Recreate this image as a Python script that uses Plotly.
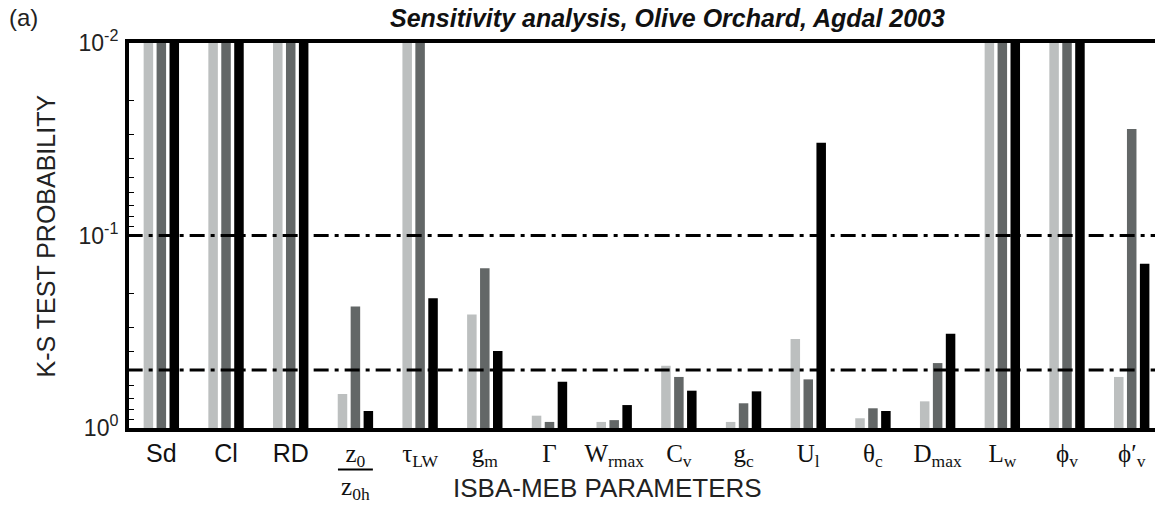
import plotly.graph_objects as go

# ---------------- data ----------------
sans = "font-family:'Liberation Sans'"
categories = ["Sd", "Cl", "RD", "z0/z0h", "tauLW", "gm", "Gamma", "Wrmax",
              "Cv", "gc", "Ul", "theta_c", "Dmax", "Lw", "phi_v", "phi'_v"]
tick_labels = [
    f"<span style=\"{sans}\">Sd</span>",
    f"<span style=\"{sans}\">Cl</span>",
    f"<span style=\"{sans}\">RD</span>",
    "z<sub>0</sub><br>z<sub>0h</sub>",
    "τ<sub>LW</sub>",
    "g<sub>m</sub>",
    "Γ",
    "W<sub>rmax</sub>",
    "C<sub>v</sub>",
    "g<sub>c</sub>",
    "U<sub>l</sub>",
    "θ<sub>c</sub>",
    "D<sub>max</sub>",
    "L<sub>w</sub>",
    "ϕ<sub>v</sub>",
    "ϕ′<sub>v</sub>",
]
# K-S test probabilities (values < 0.01 are off-scale -> full bars)
series_light = [0.005, 0.005, 0.005, 0.666, 0.005, 0.257, 0.863, 0.93,
                0.475, 0.93, 0.345, 0.89, 0.727, 0.005, 0.005, 0.543]
series_dark = [0.005, 0.005, 0.005, 0.234, 0.005, 0.148, 0.93, 0.91,
               0.543, 0.744, 0.559, 0.79, 0.46, 0.005, 0.005, 0.028]
series_black = [0.005, 0.005, 0.005, 0.816, 0.212, 0.398, 0.575, 0.76,
                0.64, 0.645, 0.033, 0.816, 0.324, 0.005, 0.005, 0.14]
thresholds = [0.1, 0.5]
y_major_vals = [1, 0.1, 0.01]
y_major_text = ["10<sup>0</sup>", "10<sup>-1</sup>", "10<sup>-2</sup>"]
y_minor_vals = [0.02, 0.03, 0.04, 0.05, 0.06, 0.07, 0.08, 0.09,
                0.2, 0.3, 0.4, 0.5, 0.6, 0.7, 0.8, 0.9]

# ---------------- figure ----------------
xs = list(range(len(categories)))
fig = go.Figure()
bar_w = 0.147
pitch = 0.2
styles = [(series_light, "#bcbfbf", -pitch), (series_dark, "#636767", 0.0),
          (series_black, "#000000", pitch)]
for vals, col, shift in styles:
    fig.add_trace(go.Bar(
        x=xs, y=[v - 1 for v in vals], base=1,
        width=bar_w, offset=shift - bar_w / 2,
        marker=dict(color=col, line=dict(width=0)),
        showlegend=False, hoverinfo="skip"))

for t in thresholds:
    fig.add_trace(go.Scatter(
        x=[-1, 17], y=[t, t], mode="lines",
        line=dict(color="black", width=3, dash="15px,6px,4px,6px"),
        showlegend=False, hoverinfo="skip"))

fig.update_layout(
    width=1155, height=506,
    margin=dict(l=129, r=0, t=43, b=78),
    paper_bgcolor="white", plot_bgcolor="white",
    barmode="overlay",
    font=dict(family="Liberation Sans", color="#222"),
)
fig.update_xaxes(
    range=[-0.5, 15.36], tickmode="array", tickvals=xs, ticktext=tick_labels,
    tickfont=dict(family="Liberation Serif", size=25, color="#111"),
    showline=True, linecolor="black", linewidth=4, mirror=True,
    ticks="", showgrid=False, zeroline=False, ticklabelstandoff=0,
)
fig.update_yaxes(
    type="log", range=[0, -2],
    tickmode="array", tickvals=y_major_vals, ticktext=y_major_text,
    tickfont=dict(family="Liberation Sans", size=23, color="#222"),
    ticks="inside", ticklen=6, tickwidth=1.5, tickcolor="black",
    minor=dict(tickmode="array", tickvals=y_minor_vals, ticks="inside",
               ticklen=5, tickwidth=1.2, tickcolor="black"),
    showline=True, linecolor="black", linewidth=4, mirror=False,
    showgrid=False, zeroline=False, ticklabelstandoff=2,
)

# fraction bar of z0 / z0h label
fig.add_shape(type="line", xref="x", yref="paper", x0=3 - 0.27, x1=3 + 0.27,
              y0=-0.108, y1=-0.108, line=dict(color="black", width=2))

fig.add_annotation(text="<b><i>Sensitivity analysis, Olive Orchard, Agdal 2003</i></b>",
                   xref="paper", yref="paper", x=0.525, y=1, yshift=25,
                   xanchor="center", yanchor="middle",
                   showarrow=False, font=dict(family="Liberation Sans", size=25, color="#111"))
fig.add_annotation(text="(a)", xref="paper", yref="paper", x=-0.119, y=1, yshift=26,
                   xanchor="left", yanchor="middle", showarrow=False,
                   font=dict(family="Liberation Sans", size=24, color="#222"))
fig.add_annotation(text="K-S TEST PROBABILITY", xref="paper", yref="paper",
                   x=-0.081, y=0.5, xanchor="center", yanchor="middle",
                   textangle=-90, showarrow=False,
                   font=dict(family="Liberation Sans", size=25, color="#222"))
fig.add_annotation(text="ISBA-MEB PARAMETERS", xref="paper", yref="paper",
                   x=0.466, y=0, yshift=-60, xanchor="center", yanchor="middle",
                   showarrow=False,
                   font=dict(family="Liberation Sans", size=26, color="#222"))

fig.write_html("out.html")
